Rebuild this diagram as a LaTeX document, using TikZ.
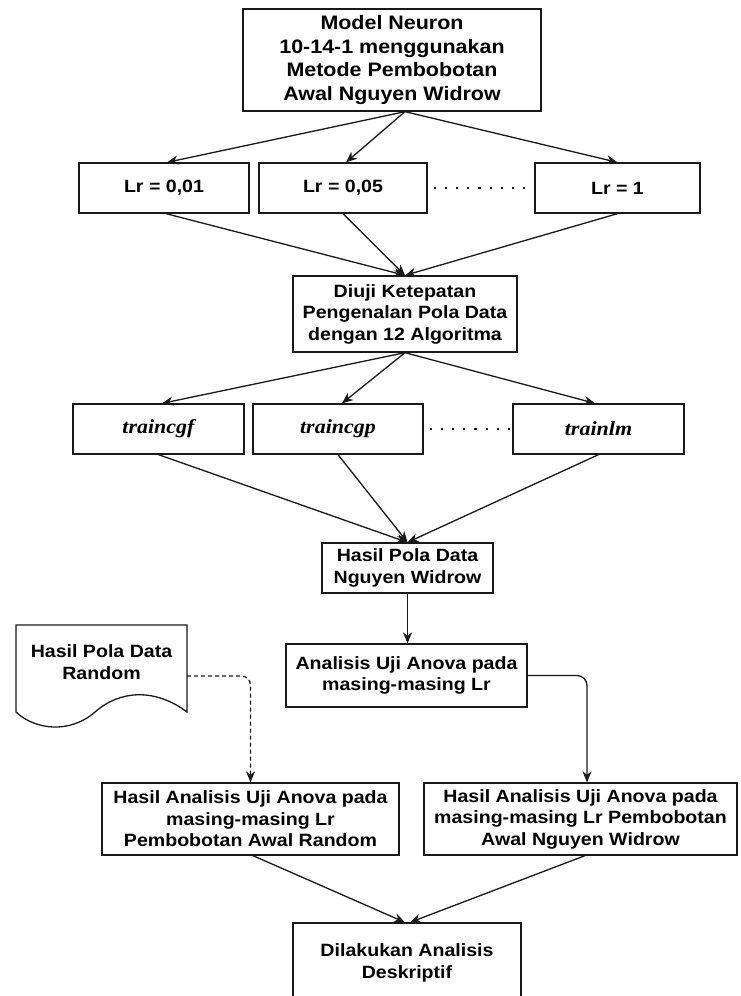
\documentclass[tikz,border=0pt]{standalone}
\usepackage{fontspec}
\setmainfont[FakeStretch=1.1]{Liberation Sans}
\newfontfamily\serifbi[FakeStretch=1.1]{Liberation Serif}
\usetikzlibrary{arrows.meta,calc}
\begin{document}
\begin{tikzpicture}[x=1pt,y=-1pt,
  box/.style={draw=black!90, line width=1.3pt, inner sep=0pt, align=center,
    font=\fontsize{17.8}{21.5}\selectfont\bfseries},
  bigbox/.style={box, font=\fontsize{19.5}{23.8}\selectfont\bfseries},
  itbox/.style={box, font=\fontsize{20}{24}\selectfont\serifbi\bfseries\itshape},
  arr/.style={draw=black!90, line width=1.3pt, -{Stealth[length=11pt,width=9pt,inset=3.5pt]}},
  dotline/.style={draw=black!90, line width=2.2pt, dash pattern=on 2.2pt off 9pt},
  dashline/.style={arr, dash pattern=on 4pt off 3pt, rounded corners=9pt},
  elbow/.style={arr, rounded corners=10pt}]
\clip (0,0) rectangle (740,996);
\fill[white] (0,0) rectangle (740,996);

% nodes
\node[bigbox, minimum width=298pt, minimum height=102pt] (top) at (392,60)
  {Model Neuron\\10-14-1 menggunakan\\Metode Pembobotan\\Awal Nguyen Widrow};

\node[box, minimum width=170pt, minimum height=50pt] (lr1) at (164,188) {Lr = 0,01};
\node[box, minimum width=168pt, minimum height=50pt] (lr2) at (343,188) {Lr = 0,05};
\node[box, minimum width=165pt, minimum height=50pt] (lr3) at (617.5,188) {Lr = 1};

\node[box, minimum width=224pt, minimum height=76pt] (diuji) at (405,314)
  {Diuji Ketepatan\\Pengenalan Pola Data\\dengan 12 Algoritma};

\node[itbox, minimum width=171pt, minimum height=50pt] (t1) at (158.5,429) {traincgf};
\node[itbox, minimum width=170pt, minimum height=50pt] (t2) at (338,429) {traincgp};
\node[itbox, minimum width=171pt, minimum height=50pt] (t3) at (598.5,429) {trainlm};

\node[box, minimum width=171pt, minimum height=50pt] (hnw) at (407.5,568)
  {Hasil Pola Data\\Nguyen Widrow};

\node[box, minimum width=241pt, minimum height=63pt] (anal) at (406.5,675.5)
  {Analisis Uji Anova pada\\masing-masing Lr};

% document shape
\draw[draw=black!90, line width=1.3pt, fill=white]
  (16,625) -- (187,625) -- (187,712)
  .. controls (155,688) and (120,690) .. (95,712)
  .. controls (70,734) and (35,730) .. (16,712) -- cycle;
\node[minimum width=171pt, minimum height=87pt, inner sep=0pt] (doc) at (101.5,668.5) {};
\node[align=center, inner sep=0pt, font=\fontsize{17.8}{21.5}\selectfont\bfseries] (doctext) at (101.5,662)
  {Hasil Pola Data\\Random};

\node[box, minimum width=297pt, minimum height=72pt] (hl) at (250.5,819)
  {Hasil Analisis Uji Anova pada\\masing-masing Lr\\Pembobotan Awal Random};
\node[box, minimum width=313pt, minimum height=72pt] (hr) at (580.5,819)
  {Hasil Analisis Uji Anova pada\\masing-masing Lr Pembobotan\\Awal Nguyen Widrow};

\node[box, minimum width=228pt, minimum height=80pt] (desk) at (407,963)
  {Dilakukan Analisis\\Deskriptif};

% connectors
\draw[arr] ($(top.south)+(13,0)$) -- ($(lr1.north)+(3,0)$);
\draw[arr] ($(top.south)+(13,0)$) -- ($(lr2.north)+(3,0)$);
\draw[arr] ($(top.south)+(13,0)$) -- (lr3.north);
\draw[dotline] ($(lr2.east)+(6,0)$) -- (lr3.west);

\draw[arr] ($(lr1.south)+(2,0)$) -- (diuji.north);
\draw[arr] (lr2.south) -- (diuji.north);
\draw[arr] (lr3.south) -- (diuji.north);

\draw[arr] (diuji.south) -- ($(t1.north)+(3.5,0)$);
\draw[arr] (diuji.south) -- ($(t2.north)+(4,0)$);
\draw[arr] (diuji.south) -- ($(t3.north)+(-3.5,0)$);
\draw[dotline] ($(t2.east)+(6,0)$) -- (t3.west);

\draw[arr] (t1.south) -- (hnw.north);
\draw[arr] (t2.south) -- (hnw.north);
\draw[arr] (t3.south) -- (hnw.north);

\draw[arr] (hnw.south) -- (hnw.south |- anal.north);

\draw[elbow] (anal.east) -| ($(hr.north)+(6.5,0)$);
\draw[dashline] ($(doc.east)+(0,7.5)$) -| (hl.north);

\draw[arr] ($(hl.south)+(2.5,0)$) -- ($(desk.north)+(-2,0)$);
\draw[arr] ($(hr.south)+(4.5,0)$) -- ($(desk.north)+(3,0)$);
\end{tikzpicture}
\end{document}
